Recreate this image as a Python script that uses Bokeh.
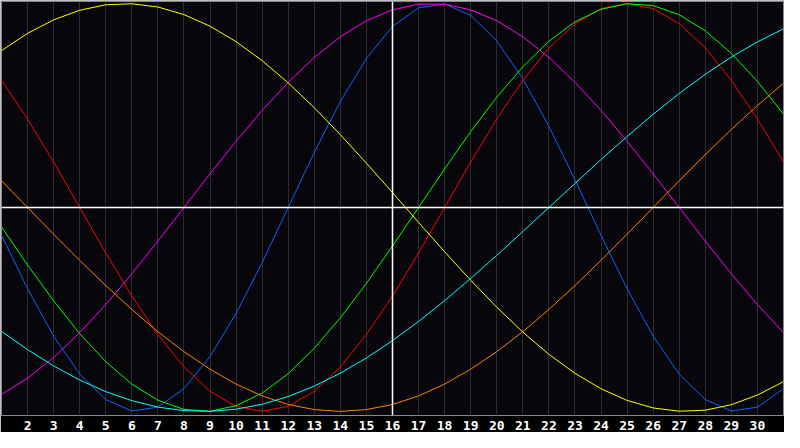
from bokeh.plotting import figure
from bokeh.models import Range1d, FixedTicker, Span
from bokeh.embed import file_html
from bokeh.resources import INLINE

# Days of the month shown on the chart
days = list(range(1, 32))
tick_days = list(range(2, 31))
today = 16

# Daily cycle values (-1 .. 1)
physical_23 = [-0.136, -0.398, -0.631, -0.817, -0.942, -0.998, -0.979, -0.888, -0.731, -0.520,
               -0.270, 0.000, 0.270, 0.520, 0.731, 0.888, 0.979, 0.998, 0.942, 0.817,
               0.631, 0.398, 0.136, -0.136, -0.398, -0.631, -0.817, -0.942, -0.998, -0.979,
               -0.888]
emotional_28 = [0.623, 0.434, 0.223, 0.000, -0.223, -0.434, -0.623, -0.782, -0.901, -0.975,
                -1.000, -0.975, -0.901, -0.782, -0.623, -0.434, -0.223, 0.000, 0.223, 0.434,
                0.623, 0.782, 0.901, 0.975, 1.000, 0.975, 0.901, 0.782, 0.623, 0.434,
                0.223]
intellectual_33 = [-0.095, -0.282, -0.458, -0.618, -0.756, -0.866, -0.945, -0.990, -0.999, -0.972,
                   -0.910, -0.815, -0.690, -0.541, -0.372, -0.189, 0.000, 0.189, 0.372, 0.541,
                   0.690, 0.815, 0.910, 0.972, 0.999, 0.990, 0.945, 0.866, 0.756, 0.618,
                   0.458]
intuitive_38 = [-0.916, -0.837, -0.736, -0.614, -0.476, -0.325, -0.165, 0.000, 0.165, 0.325,
                0.476, 0.614, 0.736, 0.837, 0.916, 0.969, 0.997, 0.997, 0.969, 0.916,
                0.837, 0.736, 0.614, 0.476, 0.325, 0.165, 0.000, -0.165, -0.325, -0.476,
                -0.614]
aesthetic_43 = [0.769, 0.854, 0.920, 0.967, 0.994, 0.999, 0.983, 0.946, 0.889, 0.813,
                0.720, 0.611, 0.489, 0.357, 0.217, 0.073, -0.073, -0.217, -0.357, -0.489,
                -0.611, -0.720, -0.813, -0.889, -0.946, -0.983, -0.999, -0.994, -0.967, -0.920,
                -0.854]
awareness_48 = [0.131, 0.000, -0.131, -0.259, -0.383, -0.500, -0.609, -0.707, -0.793, -0.866,
                -0.924, -0.966, -0.991, -1.000, -0.991, -0.966, -0.924, -0.866, -0.793, -0.707,
                -0.609, -0.500, -0.383, -0.259, -0.131, 0.000, 0.131, 0.259, 0.383, 0.500,
                0.609]
spiritual_53 = [-0.607, -0.697, -0.777, -0.846, -0.903, -0.947, -0.979, -0.996, -1.000, -0.989,
                -0.965, -0.927, -0.876, -0.812, -0.738, -0.653, -0.559, -0.457, -0.348, -0.235,
                -0.118, 0.000, 0.118, 0.235, 0.348, 0.457, 0.559, 0.653, 0.738, 0.812,
                0.876]

series = [
    (physical_23, "#0a64ff"),
    (emotional_28, "#ff0000"),
    (intellectual_33, "#00ff00"),
    (intuitive_38, "#ff00ff"),
    (aesthetic_43, "#ffff00"),
    (awareness_48, "#ff7f00"),
    (spiritual_53, "#00ffff"),
]

p = figure(width=784, height=432, output_backend="svg", toolbar_location=None,
           x_range=Range1d(1, 31), y_range=Range1d(-1.02, 1.01),
           min_border_left=1, min_border_right=1, min_border_top=1, min_border_bottom=0)
p.background_fill_color = "#07070b"
p.border_fill_color = "#000000"
p.outline_line_color = "#8a8a8a"
p.outline_line_width = 1

p.yaxis.visible = False
p.xaxis.ticker = FixedTicker(ticks=tick_days)
p.xaxis.axis_line_color = None
p.xaxis.major_tick_line_color = None
p.xaxis.minor_tick_line_color = None
p.xaxis.major_tick_out = 0
p.xaxis.major_tick_in = 0
p.xaxis.major_label_text_color = "#ffffff"
p.xaxis.major_label_text_font = "DejaVu Sans Mono"
p.xaxis.major_label_text_font_style = "bold"
p.xaxis.major_label_text_font_size = "13px"
p.xaxis.major_label_standoff = 5

p.xgrid.ticker = FixedTicker(ticks=tick_days)
p.xgrid.grid_line_color = "#2c2c2c"
p.xgrid.grid_line_width = 1
p.ygrid.grid_line_color = None

for vals, color in series:
    p.line(days, vals, line_color=color, line_width=1)

p.add_layout(Span(location=today, dimension="height", line_color="#ffffff", line_width=1.5))
p.add_layout(Span(location=0, dimension="width", line_color="#ffffff", line_width=1.5))

open("out.html", "w").write(file_html(p, INLINE))
